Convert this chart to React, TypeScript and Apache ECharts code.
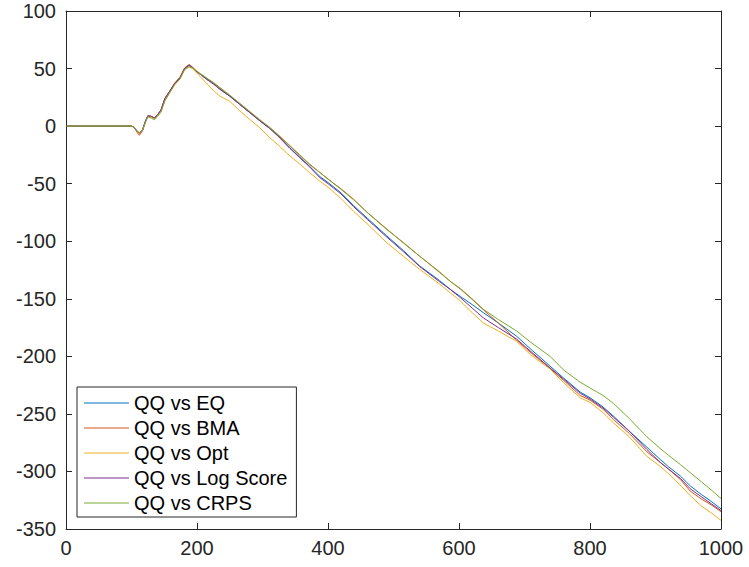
import React, { useEffect, useRef } from "react";
import * as echarts from "echarts";

const xs = [
  1, 100, 104, 108, 112, 117, 121, 125, 130, 135,
  140, 145, 151, 158, 166, 174, 181, 188, 193, 198,
  205, 214, 225, 235, 250, 265, 280, 295, 311, 325,
  342, 357, 372, 388, 400, 420, 439, 460, 490, 515,
  540, 570, 587, 602, 620, 637, 660, 688, 710, 739,
  760, 785, 800, 820, 836, 860, 887, 907, 920, 938,
  953, 970, 985, 1000,
];

const qqVsEQ = [
  0, 0, -1, -4, -6, -3, 4, 9, 8.5, 7,
  10, 14, 24, 30, 37, 42, 50, 53, 51, 48,
  45, 41, 37, 32, 26, 19, 12, 5, -2, -9,
  -19, -27, -35, -44, -49, -58, -69, -80, -95.5, -108,
  -121.5, -134, -142, -148, -155, -162, -171, -182.5, -194, -208.5,
  -219, -231, -236, -244, -252, -265, -279, -289.5, -296, -304,
  -312.5, -320, -326, -332.5,
];

const qqVsBMA = [
  0, 0, -1, -5, -8, -4, 3, 9, 8.5, 7,
  10, 14, 24, 30, 37.5, 42.5, 50.5, 53.5, 51.5, 48.5,
  45.5, 42, 37.5, 33, 26.5, 19.5, 12.5, 5.5, -1.5, -8.5,
  -17.5, -25.5, -33.5, -40.5, -46, -54.5, -63.5, -75, -89.5, -101.5,
  -113, -126.5, -135, -141.5, -150.5, -159.5, -171, -186, -197, -210.5,
  -221, -234, -238, -246, -255, -267, -283, -292, -298, -307,
  -317, -324, -329, -335,
];

const qqVsOpt = [
  0, 0, -1, -4, -6.5, -3, 3.5, 9, 8, 6.5,
  9.5, 13, 22, 29, 36, 41, 49, 52, 50, 47,
  43, 37.5, 31, 26, 21.5, 13.5, 6, -1, -10, -17,
  -26, -33, -40.5, -48, -53, -63, -74, -85, -101.5, -113,
  -124.5, -137, -145, -152, -162, -171, -178, -187, -199, -211,
  -223, -236, -240, -249, -258, -270, -287, -295.5, -302, -312,
  -321, -330, -336, -342.5,
];

const qqVsLogScore = [
  0, 0, -1, -4, -6, -3, 4, 9, 8.5, 7,
  10, 14, 24, 30, 37, 42, 50, 53, 51, 48,
  45, 41, 36.5, 32, 26, 19, 12, 5, -2, -9.5,
  -19.5, -27.5, -35.5, -45, -50, -59, -70, -81, -96.5, -109,
  -122, -135, -142, -149, -158, -166.5, -175, -185, -196, -210,
  -220, -232, -237, -245, -253, -265, -281, -292, -298, -306,
  -315, -322, -328, -334,
];

const qqVsCRPS = [
  0, 0, -1, -4, -6, -3, 3, 8, 7, 5.5,
  8.5, 12, 22, 28.5, 36, 41, 49, 51.5, 50.5, 48.5,
  45.5, 42, 38, 33.5, 27, 20, 13, 6, -1, -8,
  -17, -25, -33, -40.5, -46, -55, -64, -75, -90, -101,
  -113, -127, -135, -141, -150, -159, -168, -178, -188, -200,
  -212, -222.5, -227.5, -234, -241, -254, -270, -280, -286, -294,
  -301, -309, -316, -323.5,
];

const seriesNames = ["QQ vs EQ", "QQ vs BMA", "QQ vs Opt", "QQ vs Log Score", "QQ vs CRPS"];
const seriesValues = [qqVsEQ, qqVsBMA, qqVsOpt, qqVsLogScore, qqVsCRPS];
const seriesColors = ["#0072BD", "#D95319", "#EDB120", "#7E2F8E", "#77AC30"];

const FONT = "'Liberation Sans', Arial, Helvetica, sans-serif";
const AXIS_COLOR = "#262626";

export default function App() {
  const ref = useRef<HTMLDivElement>(null);

  useEffect(() => {
    if (!ref.current) return;
    const chart = echarts.init(ref.current, undefined, { renderer: "svg" });

    const axisLine = { show: true, onZero: false, lineStyle: { color: AXIS_COLOR, width: 1 } };
    const axisTick = { show: true, inside: true, length: 6, lineStyle: { color: AXIS_COLOR, width: 1 } };
    const plain = (v: number) => String(v);

    chart.setOption({
      animation: false,
      backgroundColor: "#ffffff",
      grid: { left: 66, top: 11, right: 28, bottom: 38, containLabel: false },
      xAxis: [
        {
          type: "value",
          min: 0,
          max: 1000,
          interval: 200,
          position: "bottom",
          axisLine,
          axisTick,
          splitLine: { show: false },
          axisLabel: { color: AXIS_COLOR, fontSize: 20, fontFamily: FONT, margin: 9, formatter: plain },
        },
        {
          type: "value",
          min: 0,
          max: 1000,
          interval: 200,
          position: "top",
          axisLine,
          axisTick,
          splitLine: { show: false },
          axisLabel: { show: false },
        },
      ],
      yAxis: [
        {
          type: "value",
          min: -350,
          max: 100,
          interval: 50,
          position: "left",
          axisLine,
          axisTick,
          splitLine: { show: false },
          axisLabel: { color: AXIS_COLOR, fontSize: 20, fontFamily: FONT, margin: 10, formatter: plain },
        },
        {
          type: "value",
          min: -350,
          max: 100,
          interval: 50,
          position: "right",
          axisLine,
          axisTick,
          splitLine: { show: false },
          axisLabel: { show: false },
        },
      ],
      legend: {
        orient: "vertical",
        left: 77,
        top: 387,
        padding: [6, 9, 4, 7],
        icon: "rect",
        itemWidth: 45,
        itemHeight: 1,
        itemGap: 5,
        borderColor: AXIS_COLOR,
        borderWidth: 1,
        backgroundColor: "#ffffff",
        textStyle: { color: "#000000", fontSize: 20, fontFamily: FONT, lineHeight: 20 },
        data: seriesNames,
      },
      series: seriesNames.map((name, i) => ({
        name,
        type: "line",
        xAxisIndex: 0,
        yAxisIndex: 0,
        symbol: "none",
        showSymbol: false,
        color: seriesColors[i],
        itemStyle: { color: seriesColors[i] },
        lineStyle: { color: seriesColors[i], width: 1 },
        data: xs.map((x, j) => [x, seriesValues[i][j]]),
      })),
    });

    return () => chart.dispose();
  }, []);

  return <div ref={ref} style={{ width: 749, height: 567, position: "absolute", left: 0, top: 0 }} />;
}
